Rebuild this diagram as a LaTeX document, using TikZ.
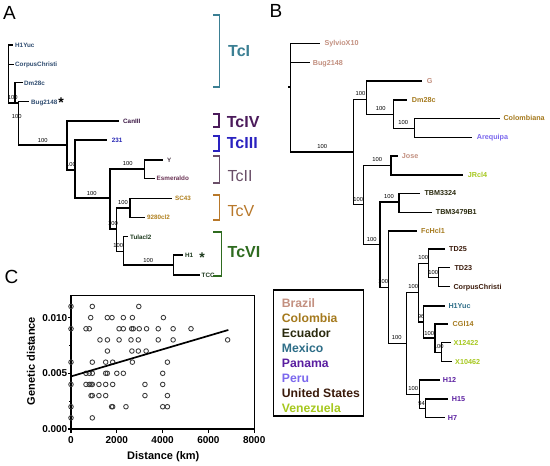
\documentclass[tikz,border=0pt]{standalone}
\usepackage{fontspec}
\setmainfont{Liberation Sans}
\definecolor{cTcI}{HTML}{3B7F93}
\definecolor{cTcIV}{HTML}{4B1B5B}
\definecolor{cTcIII}{HTML}{2A22C0}
\definecolor{cTcII}{HTML}{6A4F68}
\definecolor{cTcV}{HTML}{B8782A}
\definecolor{cTcVI}{HTML}{2E6B1F}
\definecolor{aI}{HTML}{2F4C70}
\definecolor{aIV}{HTML}{3B1744}
\definecolor{aIII}{HTML}{2424B4}
\definecolor{aIIy}{HTML}{4A3A48}
\definecolor{aIIe}{HTML}{6B3455}
\definecolor{aV}{HTML}{B0801E}
\definecolor{aVI}{HTML}{1E3A1E}
\definecolor{Brazil}{HTML}{C39080}
\definecolor{Colombia}{HTML}{A57A1E}
\definecolor{Ecuador}{HTML}{2A2A0E}
\definecolor{Mexico}{HTML}{2E6E88}
\definecolor{Panama}{HTML}{5A1EA0}
\definecolor{Peru}{HTML}{7B68EE}
\definecolor{USA}{HTML}{3A1A0A}
\definecolor{Venezuela}{HTML}{A6C81E}
\definecolor{ptc}{HTML}{3A3A3A}
\begin{document}
\begin{tikzpicture}[x=1pt,y=-1pt,
  trA/.style={line width=1.25pt},
  trB/.style={line width=1.35pt},
  bs/.style={font=\fontsize{5.8}{6}\selectfont, inner sep=0pt},
  lfA/.style={font=\bfseries\fontsize{6.3}{7}\selectfont, anchor=base west, inner sep=0pt, yshift=-2.3pt},
  lfB/.style={font=\bfseries\fontsize{7.2}{8}\selectfont, anchor=base west, inner sep=0pt, yshift=-2.6pt},
  tcl/.style={font=\bfseries\fontsize{16}{17}\selectfont, anchor=base west, inner sep=0pt, yshift=-5.7pt},
  tclr/.style={font=\fontsize{16}{17}\selectfont, anchor=base west, inner sep=0pt, yshift=-5.7pt},
  brk/.style={line width=1.6pt},
  pl/.style={font=\fontsize{19}{20}\selectfont, anchor=north west, inner sep=0pt},
  leg/.style={font=\bfseries\fontsize{12.2}{13}\selectfont, anchor=base west, inner sep=0pt, yshift=-4.4pt},
  tk/.style={font=\bfseries\fontsize{10}{11}\selectfont, inner sep=0pt},
  ax/.style={font=\bfseries\fontsize{11}{12}\selectfont, inner sep=0pt},
  pt/.style={draw=ptc, line width=0.85pt},
  ast/.style={font=\bfseries\fontsize{14}{14}\selectfont, inner sep=0pt}
]
\useasboundingbox (0,0) rectangle (550,466);
\fill[white] (0,0) rectangle (550,466);

% ---------- Panel labels
\node[pl] (pA) at (3,6.5) {A};
\node[pl] (pB) at (269.5,4.5) {B};
\node[pl] (pC) at (4.5,270.5) {C};

% ---------- Panel A tree
\coordinate (R) at (18.3,103);
\coordinate (T1b) at (8.3,103);
\coordinate (D) at (15,103);
\coordinate (lH1Yuc) at (13.3,45);
\coordinate (lCorp) at (13.5,64.3);
\coordinate (lDm) at (22.7,82.7);
\coordinate (lBug) at (29.3,101.7);
\coordinate (N2) at (67,145);
\coordinate (lCan) at (119,121);
\coordinate (N3) at (75,170);
\coordinate (l231) at (106.7,140);
\coordinate (N4) at (110,198);
\coordinate (NY) at (144.3,169);
\coordinate (lY) at (163.3,160);
\coordinate (lEsm) at (155,178.3);
\coordinate (N5) at (116.7,229);
\coordinate (NSC) at (130,208);
\coordinate (lSC) at (171.7,198.3);
\coordinate (l928) at (144.5,217.3);
\coordinate (N6) at (123.3,251.7);
\coordinate (lTula) at (128.3,236.7);
\coordinate (N7) at (173.3,265);
\coordinate (lH1) at (183.3,255);
\coordinate (lTCC) at (200,275);

\draw[trA] (R) -- (T1b) (T1b) |- (lH1Yuc) (T1b) |- (lCorp) (D) |- (lDm)
  (R) |- (lBug) (R) |- (N2) (N2) |- (lCan) (N2) |- (N3)
  (N3) |- (l231) (N3) |- (N4) (N4) |- (NY) (NY) |- (lY) (NY) |- (lEsm)
  (N4) |- (N5) (N5) |- (NSC) (NSC) |- (lSC) (NSC) |- (l928)
  (N5) |- (N6) (N6) |- (lTula) (N6) |- (N7) (N7) |- (lH1) (N7) |- (lTCC);

\node[lfA, text=aI] (tH1Yuc) at (15,45) {H1Yuc};
\node[lfA, text=aI] (tCorp) at (15,64.3) {CorpusChristi};
\node[lfA, text=aI] (tDm) at (24,82.7) {Dm28c};
\node[lfA, text=aI] (tBug) at (31,101.7) {Bug2148};
\node[lfA, text=aIV] (tCan) at (123,121) {CanIII};
\node[lfA, text=aIII] (t231) at (111.7,140) {231};
\node[lfA, text=aIIy] (tY) at (167,160) {Y};
\node[lfA, text=aIIe] (tEsm) at (156.5,178.3) {Esmeraldo};
\node[lfA, text=aV] (tSC) at (175,198.3) {SC43};
\node[lfA, text=aV] (t928) at (147,217.3) {9280cl2};
\node[lfA, text=aVI] (tTula) at (130,236.7) {Tulacl2};
\node[lfA, text=aVI] (tH1) at (185,255) {H1};
\node[lfA, text=aVI] (tTCC) at (201.5,275) {TCC};
\node[ast] (astA) at (61,103) {*};
\node[ast, text=aVI] (astB) at (202,258) {*};

\node[bs] (bA1) at (12.7,97.3) {100};
\node[bs] (bA2) at (16.7,116.7) {100};
\node[bs] (bA3) at (42.7,141) {100};
\node[bs] (bA4) at (71,164.5) {100};
\node[bs] (bA5) at (91.7,193.3) {100};
\node[bs] (bA6) at (127.7,163.5) {100};
\node[bs] (bA7) at (113,224) {100};
\node[bs] (bA8) at (123,203) {100};
\node[bs] (bA9) at (118.3,246) {100};
\node[bs] (bA10) at (148.3,260.5) {100};

% ---------- DTU brackets
\draw[brk, cTcI] (213.3,15) -| (219.5,87) -- (213.3,87);
\draw[brk, cTcIV] (213.3,114) -| (219,126.7) -- (213.3,126.7);
\draw[brk, cTcIII] (213.3,136) -| (219,150.7) -- (213.3,150.7);
\draw[brk, cTcII] (213.3,156) -| (219.5,182.7) -- (213.3,182.7);
\draw[brk, cTcV] (213.3,195) -| (219.5,220) -- (213.3,220);
\draw[brk, cTcVI] (213.3,231.7) -| (221.5,276) -- (213.3,276);
\node[tcl, text=cTcI] (TcI) at (228,51) {TcI};
\node[tcl, text=cTcIV] (TcIV) at (226.7,121.7) {TcIV};
\node[tcl, text=cTcIII] (TcIII) at (226.7,143) {TcIII};
\node[tclr, text=cTcII] (TcII) at (227.5,175.5) {TcII};
\node[tclr, text=cTcV] (TcV) at (227.5,210.5) {TcV};
\node[tcl, text=cTcVI] (TcVI) at (227.5,251.7) {TcVI};

% ---------- Panel B tree
\coordinate (Broot) at (290.7,87);
\coordinate (Bstub) at (288.3,87);
\coordinate (lSyl) at (320,43.3);
\coordinate (lBugB) at (310,62.7);
\coordinate (B2) at (353.3,152);
\coordinate (G1) at (366.7,99.3);
\coordinate (lG) at (421.7,81);
\coordinate (G2) at (393.3,114.3);
\coordinate (lDmB) at (406.7,100);
\coordinate (G3) at (414.3,128.3);
\coordinate (lCol) at (500,118.3);
\coordinate (lAre) at (471.7,137.3);
\coordinate (B3) at (363.3,204.7);
\coordinate (J1) at (391,165.5);
\coordinate (lJose) at (398.3,156);
\coordinate (lJR) at (463.3,175);
\coordinate (B4) at (380,244.5);
\coordinate (T1B) at (399,202);
\coordinate (lTBM1) at (420,193.3);
\coordinate (lTBM2) at (431.7,212.3);
\coordinate (B5) at (388.3,287.2);
\coordinate (lFc) at (416.7,231);
\coordinate (B6) at (406.7,343.5);
\coordinate (B7) at (418.3,292.7);
\coordinate (TD1) at (428.3,263.3);
\coordinate (lTD25) at (445,249);
\coordinate (TD2) at (438.3,277.2);
\coordinate (lTD23) at (450,267.7);
\coordinate (lCC) at (450,286.7);
\coordinate (B8) at (423.3,322);
\coordinate (lH1Y) at (445,306);
\coordinate (B9) at (435,338);
\coordinate (lCG) at (448.3,324);
\coordinate (B10) at (441.7,352.2);
\coordinate (lX1) at (450.7,342.7);
\coordinate (lX2) at (451.7,361.7);
\coordinate (B11) at (419.3,394.3);
\coordinate (lH12) at (440,380);
\coordinate (B12) at (425.7,408.3);
\coordinate (lH15) at (448.3,399);
\coordinate (lH7) at (445,417.7);

\draw[trB] (Bstub) -- (Broot) (Broot) |- (lSyl) (Broot) |- (lBugB) (Broot) |- (B2)
  (B2) |- (G1) (G1) |- (lG) (G1) |- (G2) (G2) |- (lDmB) (G2) |- (G3)
  (G3) |- (lCol) (G3) |- (lAre)
  (B2) |- (B3) (B3) |- (J1) (J1) |- (lJose) (J1) |- (lJR)
  (B3) |- (B4) (B4) |- (T1B) (T1B) |- (lTBM1) (T1B) |- (lTBM2)
  (B4) |- (B5) (B5) |- (lFc) (B5) |- (B6)
  (B6) |- (B7) (B7) |- (TD1) (TD1) |- (lTD25) (TD1) |- (TD2) (TD2) |- (lTD23) (TD2) |- (lCC)
  (B7) |- (B8) (B8) |- (lH1Y) (B8) |- (B9) (B9) |- (lCG) (B9) |- (B10) (B10) |- (lX1) (B10) |- (lX2)
  (B6) |- (B11) (B11) |- (lH12) (B11) |- (B12) (B12) |- (lH15) (B12) |- (lH7);

\node[lfB, text=Brazil] (tSyl) at (324.3,43.3) {SylvioX10};
\node[lfB, text=Brazil] (tBugB) at (312.7,62.7) {Bug2148};
\node[lfB, text=Brazil] (tG) at (426.7,81) {G};
\node[lfB, text=Colombia] (tDmB) at (411.7,100) {Dm28c};
\node[lfB, text=Colombia] (tCol) at (503.3,118.3) {Colombiana};
\node[lfB, text=Peru] (tAre) at (476.7,137.3) {Arequipa};
\node[lfB, text=Brazil] (tJose) at (401.7,156) {Jose};
\node[lfB, text=Venezuela] (tJR) at (467.7,175) {JRcl4};
\node[lfB, text=Ecuador] (tTBM1) at (424.3,193.3) {TBM3324};
\node[lfB, text=Ecuador] (tTBM2) at (435.7,212.3) {TBM3479B1};
\node[lfB, text=Colombia] (tFc) at (421,231) {FcHcl1};
\node[lfB, text=USA] (tTD25) at (449,249) {TD25};
\node[lfB, text=USA] (tTD23) at (454.3,267.7) {TD23};
\node[lfB, text=USA] (tCC) at (453.3,286.7) {CorpusChristi};
\node[lfB, text=Mexico] (tH1Y) at (448.3,306) {H1Yuc};
\node[lfB, text=Colombia] (tCG) at (452.5,324) {CGl14};
\node[lfB, text=Venezuela] (tX1) at (453.3,342.7) {X12422};
\node[lfB, text=Venezuela] (tX2) at (455,361.7) {X10462};
\node[lfB, text=Panama] (tH12) at (442.7,380) {H12};
\node[lfB, text=Panama] (tH15) at (451.7,399) {H15};
\node[lfB, text=Panama] (tH7) at (447.7,417.7) {H7};

\node[bs] (bB1) at (322.3,146.5) {100};
\node[bs] (bB2) at (360.5,93.5) {100};
\node[bs] (bB3) at (380.7,108.5) {100};
\node[bs] (bB4) at (403.3,122.7) {100};
\node[bs] (bB5) at (358.3,200) {100};
\node[bs] (bB6) at (377.3,159.5) {100};
\node[bs] (bB7) at (371.7,239.3) {100};
\node[bs] (bB8) at (389,197) {100};
\node[bs] (bB9) at (383.3,281.7) {100};
\node[bs] (bB10) at (396.7,338) {100};
\node[bs] (bB11) at (413.3,287) {100};
\node[bs] (bB12) at (423.3,257.7) {100};
\node[bs] (bB13) at (433.3,272.3) {100};
\node[bs] (bB14) at (421,316.5) {96};
\node[bs] (bB15) at (429.3,333.3) {100};
\node[bs] (bB16) at (438.7,347) {100};
\node[bs] (bB17) at (413.3,388.5) {100};
\node[bs] (bB18) at (421.7,403.3) {94};

% ---------- Legend
\draw[line width=1.3pt] (273.3,290) rectangle (363.3,416);
\node[leg, text=Brazil] (gBr) at (281.7,303.3) {Brazil};
\node[leg, text=Colombia] (gCo) at (281.7,318.3) {Colombia};
\node[leg, text=Ecuador] (gEc) at (281.7,333.3) {Ecuador};
\node[leg, text=Mexico] (gMe) at (281.7,348.3) {Mexico};
\node[leg, text=Panama] (gPa) at (281.7,363.3) {Panama};
\node[leg, text=Peru] (gPe) at (281.7,378.3) {Peru};
\node[leg, text=USA] (gUS) at (281.7,393.3) {United States};
\node[leg, text=Venezuela] (gVe) at (281.7,408.3) {Venezuela};

% ---------- Panel C scatter
\begin{scope}[shift={(71,429)}, x=22.9pt, y=11.14pt]
  \draw[line width=1.2pt] (0,12) -- (8,12) -- (8,0);
  \draw[line width=1.4pt] (0,12) -- (0,0) -- (8,0);
  \foreach \v/\t in {0/0.000,5/0.005,10/0.010} {
    \draw[line width=1.2pt] (0,\v) -- ++(-3pt,0);
    \node[tk, anchor=base east] at ([xshift=-3.5pt, yshift=-3.6pt]0,\v) {\t};
  }
  \foreach \v in {2.5,7.5} \draw[line width=1pt] (0,\v) -- ++(-2pt,0);
  \foreach \k/\t in {0/0,2/2000,4/4000,6/6000,8/8000} {
    \draw[line width=1.2pt] (\k,0) -- ++(0,-4pt);
    \node[tk, anchor=base] at ([yshift=-14.6pt]\k,0) {\t};
  }
  \foreach \y/\xs in {11/{0,0.93,2.96},
                      10/{0.86,1.585,1.79,2.285,2.68,4.035},
                      9/{0,0.655,0.8,2.1,2.285,2.65,2.72,2.98,3.3,3.81,4.46,5.24},
                      8/{1.265,1.59,2.1,2.62,2.94,3.81,4.46,6.84},
                      7/{1.59,2.66,2.94,3.28},
                      6/{0,0.93,1.515,1.82,2.68,4.21},
                      5/{0.655,0.8,0.93,1.515,1.585,2.0,2.285,4.005},
                      4/{0,0.655,0.8,0.875,0.93,1.22,1.515,1.82,3.23,4.005},
                      3/{0.875,0.93,1.22,1.515,3.23,4.21},
                      2/{0,1.775,1.82,2.4,4.005,4.21},
                      1/{0,0.93}} {
    \foreach \x in \xs { \draw[pt] (\x,\y) circle (2.3pt); }
  }
  \coordinate (r0) at (0,4.72);
  \coordinate (r1) at (6.87,8.89);
  \draw[line width=1.7pt] (r0) -- (r1);
\end{scope}
\node[ax, rotate=90] (ylab) at (31,361) {Genetic distance};
\node[ax] (xlab) at (163.3,456.7) {Distance (km)};
\end{tikzpicture}
\end{document}
